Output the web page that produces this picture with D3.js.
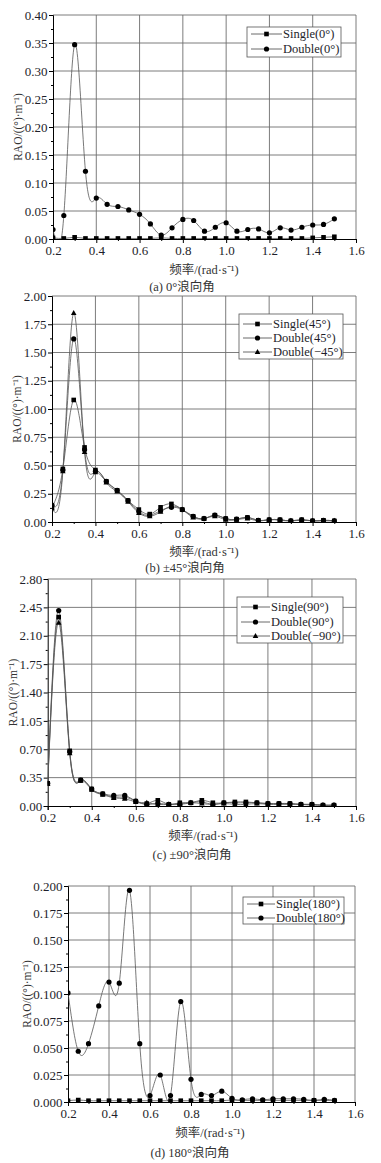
<!DOCTYPE html>
<html><head><meta charset="utf-8">
<script src="https://cdn.jsdelivr.net/npm/d3@7"></script>
<style>
body{margin:0;background:#fff;}
svg{display:block;font-family:"Liberation Serif","DejaVu Serif",serif;}
svg text{font-family:"Liberation Serif","Noto Sans CJK SC",serif;}
</style></head>
<body><svg id="c" width="381" height="1163"></svg>
<script>
const freq = [0.2,0.25,0.3,0.35,0.4,0.45,0.5,0.55,0.6,0.65,0.7,0.75,0.8,0.85,0.9,0.95,1.0,1.05,1.1,1.15,1.2,1.25,1.3,1.35,1.4,1.45,1.5];

const single0 = [0.002,0.001,0.003,0.001,0.001,0.001,0.001,0.001,0.001,0.001,0.002,0.001,0.001,0.001,0.001,0.001,0.001,0.001,0.001,0.001,0.001,0.001,0.001,0.001,0.002,0.003,0.004];
const double0 = [0.017,0.042,0.347,0.121,0.073,0.062,0.058,0.052,0.044,0.027,0.007,0.020,0.035,0.033,0.014,0.021,0.029,0.014,0.017,0.018,0.011,0.020,0.016,0.021,0.025,0.026,0.036];

const single45 = [0.13,0.47,1.08,0.66,0.46,0.36,0.28,0.19,0.11,0.07,0.13,0.16,0.11,0.05,0.03,0.06,0.03,0.025,0.04,0.015,0.02,0.02,0.01,0.02,0.01,0.015,0.01];
const double45 = [0.15,0.46,1.62,0.64,0.45,0.36,0.28,0.19,0.09,0.06,0.10,0.13,0.11,0.05,0.03,0.06,0.03,0.025,0.04,0.015,0.02,0.02,0.01,0.02,0.01,0.015,0.01];
const doubleM45 = [0.12,0.45,1.85,0.62,0.44,0.35,0.27,0.18,0.08,0.05,0.09,0.14,0.11,0.04,0.03,0.05,0.02,0.02,0.03,0.01,0.02,0.015,0.01,0.015,0.01,0.01,0.01];

const single90 = [0.28,2.33,0.68,0.32,0.21,0.15,0.11,0.11,0.06,0.03,0.07,0.02,0.04,0.04,0.07,0.04,0.04,0.05,0.05,0.04,0.03,0.03,0.03,0.02,0.02,0.01,0.01];
const double90 = [0.28,2.41,0.67,0.32,0.21,0.15,0.13,0.13,0.06,0.02,0.03,0.02,0.02,0.04,0.05,0.02,0.04,0.04,0.04,0.04,0.03,0.03,0.03,0.02,0.02,0.01,0.01];
const doubleM90 = [0.27,2.26,0.65,0.31,0.20,0.14,0.10,0.09,0.05,0.04,0.02,0.02,0.03,0.04,0.03,0.02,0.03,0.02,0.02,0.03,0.02,0.02,0.02,0.02,0.01,0.01,0.01];

const single180 = [0.0012,0.0018,0.0012,0.0012,0.0012,0.0012,0.0012,0.0012,0.0012,0.0012,0.0012,0.0012,0.0012,0.0012,0.0012,0.0012,0.0018,0.0015,0.0015,0.0015,0.0015,0.0015,0.0015,0.0015,0.0015,0.0015,0.0012];
const double180 = [0.101,0.047,0.054,0.089,0.111,0.110,0.196,0.054,0.006,0.025,0.006,0.093,0.021,0.007,0.006,0.010,0.0034,0.002,0.003,0.002,0.003,0.003,0.003,0.0025,0.0015,0.0025,0.0015];

const xTicks = [0.2,0.4,0.6,0.8,1.0,1.2,1.4,1.6];
const yTicksA = [0,0.05,0.10,0.15,0.20,0.25,0.30,0.35,0.40];
const yTicksB = [0,0.25,0.50,0.75,1.00,1.25,1.50,1.75,2.00];
const yTicksC = [0,0.35,0.70,1.05,1.40,1.75,2.10,2.45,2.80];
const yTicksD = [0,0.025,0.050,0.075,0.100,0.125,0.150,0.175,0.200];

const xTitle = "频率/(rad·s⁻¹)";
const yTitle = "RAO/((°)·m⁻¹)";

const svg = d3.select("#c");
const textCol = "#1e1e2a";

const panels = [
  {id:"a", box:[53,356,15,239], yt:yTicksA, dec:2, ytx:18, xtc:[204,270], cap:[182,287,"(a) 0°浪向角"],
   series:[{name:"Single(0°)",v:single0,m:"sq"},{name:"Double(0°)",v:double0,m:"ci"}],
   leg:[247,341,27,57], legRows:[34,49], legText:283},
  {id:"b", box:[52,356,296,522], yt:yTicksB, dec:2, ytx:17, xtc:[204,552], cap:[185,568,"(b) ±45°浪向角"],
   series:[{name:"Single(45°)",v:single45,m:"sq"},{name:"Double(45°)",v:double45,m:"ci"},{name:"Double(−45°)",v:doubleM45,m:"tr"}],
   leg:[239,343,314,359], legRows:[324,338,352], legText:273},
  {id:"c", box:[47.7,356,579,806], yt:yTicksC, dec:2, ytx:13, xtc:[203,836], cap:[192,855,"(c) ±90°浪向角"],
   series:[{name:"Single(90°)",v:single90,m:"sq"},{name:"Double(90°)",v:double90,m:"ci"},{name:"Double(−90°)",v:doubleM90,m:"tr"}],
   leg:[237,343,597,643], legRows:[607,622,636], legText:271},
  {id:"d", box:[68,355,886,1102], yt:yTicksD, dec:3, ytx:27, xtc:[210,1133], cap:[190,1153,"(d) 180°浪向角"],
   series:[{name:"Single(180°)",v:single180,m:"sq"},{name:"Double(180°)",v:double180,m:"ci"}],
   leg:[243,344,897,924], legRows:[904,918], legText:276}
];

function marker(g, type, x, y){
  if(type==="sq"){
    g.append("rect").attr("x",x-2.3).attr("y",y-2.3).attr("width",4.6).attr("height",4.6).attr("fill","#000");
  } else if(type==="ci"){
    g.append("circle").attr("cx",x).attr("cy",y).attr("r",2.6).attr("fill","#000");
  } else {
    g.append("path").attr("d",`M${x},${y-3}L${x+2.8},${y+2}L${x-2.8},${y+2}Z`).attr("fill","#000");
  }
}

panels.forEach(p=>{
  const [l,r,t,b] = p.box;
  const yMax = p.yt[p.yt.length-1];
  const x = d3.scaleLinear().domain([0.2,1.6]).range([l,r]);
  const y = d3.scaleLinear().domain([0,yMax]).range([b,t]);
  const g = svg.append("g");

  // grid
  g.selectAll(null).data(xTicks.slice(1)).join("line")
    .attr("x1",d=>x(d)).attr("x2",d=>x(d)).attr("y1",t).attr("y2",b)
    .attr("stroke","#6e6e6e").attr("stroke-width",0.9);
  g.selectAll(null).data(p.yt.slice(1)).join("line")
    .attr("x1",l).attr("x2",r).attr("y1",d=>y(d)).attr("y2",d=>y(d))
    .attr("stroke","#6e6e6e").attr("stroke-width",0.9);

  // axes
  const step = p.yt[1]-p.yt[0];
  const yMinor = p.yt.slice(0,-1).map(d=>d+step/2);
  const yAxis = d3.axisLeft(y).tickValues(p.yt).tickFormat(d3.format("."+p.dec+"f")).tickSize(4).tickPadding(1.5);
  const ya = g.append("g").attr("transform",`translate(${l},0)`).call(yAxis);
  ya.attr("font-family",null);
  ya.select(".domain").attr("stroke","#000");
  ya.selectAll("text").attr("font-size",13).attr("fill",textCol);
  g.append("g").attr("transform",`translate(${l},0)`)
    .call(d3.axisLeft(y).tickValues(yMinor).tickSize(2).tickFormat(""))
    .select(".domain").remove();

  const xMinor = [0.3,0.5,0.7,0.9,1.1,1.3,1.5];
  const xAxis = d3.axisBottom(x).tickValues(xTicks).tickFormat(d3.format(".1f")).tickSize(4).tickPadding(3);
  const xa = g.append("g").attr("transform",`translate(0,${b})`).call(xAxis);
  xa.attr("font-family",null);
  xa.selectAll("text").attr("font-size",13).attr("fill",textCol);
  g.append("g").attr("transform",`translate(0,${b})`)
    .call(d3.axisBottom(x).tickValues(xMinor).tickSize(2).tickFormat(""))
    .select(".domain").remove();

  // clip
  const cid = "clip"+p.id;
  svg.append("clipPath").attr("id",cid).append("rect").attr("x",l).attr("y",t).attr("width",r-l).attr("height",b-t);

  const line = d3.line().x((d,i)=>x(freq[i])).y(d=>y(d)).curve(d3.curveNatural);
  const pg = g.append("g").attr("clip-path",`url(#${cid})`);
  p.series.forEach(s=>{
    pg.append("path").attr("d",line(s.v)).attr("fill","none").attr("stroke","#555").attr("stroke-width",0.8);
  });
  p.series.forEach(s=>{
    s.v.forEach((v,i)=>marker(pg, s.m, x(freq[i]), y(v)));
  });

  // legend
  const [ll,lr,lt,lb] = p.leg;
  g.append("rect").attr("x",ll).attr("y",lt).attr("width",lr-ll).attr("height",lb-lt)
    .attr("fill","#fff").attr("stroke","#555").attr("stroke-width",0.8);
  p.series.forEach((s,i)=>{
    const ry = p.legRows[i];
    g.append("line").attr("x1",ll+4).attr("x2",p.legText-1).attr("y1",ry).attr("y2",ry)
      .attr("stroke","#444").attr("stroke-width",0.8);
    marker(g, s.m, (ll+4+p.legText-1)/2, ry);
    g.append("text").attr("x",p.legText).attr("y",ry).attr("dy","0.35em")
      .attr("font-size",12.5).attr("fill",textCol).text(s.name);
  });

  // titles
  g.append("text").attr("transform",`translate(${p.ytx},${(t+b)/2}) rotate(-90)`)
    .attr("text-anchor","middle").attr("dy","0.35em").attr("font-size",11.5).attr("fill","#333").text(yTitle);
  g.append("text").attr("x",p.xtc[0]).attr("y",p.xtc[1]).attr("dy","0.35em")
    .attr("text-anchor","middle").attr("font-size",12.5).attr("fill","#333").text(xTitle);
  g.append("text").attr("x",p.cap[0]).attr("y",p.cap[1]).attr("dy","0.35em")
    .attr("text-anchor","middle").attr("font-size",12.5).attr("fill","#333").text(p.cap[2]);
});
</script></body></html>
